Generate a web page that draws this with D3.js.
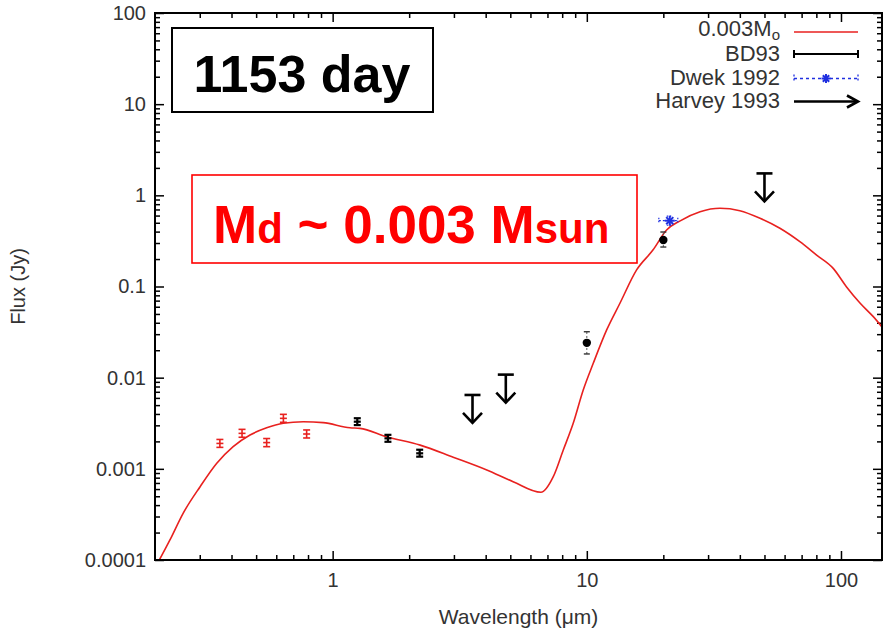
<!DOCTYPE html>
<html>
<head>
<meta charset="utf-8">
<script src="https://cdn.jsdelivr.net/npm/d3@7"></script>
<style>
  body { margin: 0; background: #fff; }
  svg { display: block; }
  text { font-family: "Liberation Sans", Arial, Helvetica, sans-serif; }
</style>
</head>
<body>
<svg id="chart" width="885" height="634"></svg>
<script>
// ---- Model SED (0.003 Msun dust), wavelength in micron, flux in Jy ----
const modelLambda = [0.208, 0.229, 0.258, 0.301, 0.350, 0.406, 0.473, 0.550, 0.639, 0.766,
  0.918, 1.17, 1.28, 1.63, 2.21, 2.98, 4.04, 5.13, 6.60, 7.38, 8.08, 8.84, 9.68, 10.6,
  11.97, 13.5, 15.7, 18.2, 20.6, 23.2, 27.9, 33.4, 40.0, 48.0, 57.5, 68.9, 80.2, 93.2,
  105, 119, 134, 145];
const modelFlux = [1.0e-4, 1.66e-4, 3.25e-4, 6.37e-4, 1.15e-3, 1.75e-3, 2.35e-3, 2.82e-3, 3.16e-3, 3.29e-3,
  3.21e-3, 2.82e-3, 2.78e-3, 2.25e-3, 1.82e-3, 1.34e-3, 9.7e-4, 7.23e-4, 5.53e-4, 8.2e-4,
  1.61e-3, 3.16e-3, 7.33e-3, 0.01437, 0.0334, 0.0655, 0.152, 0.251, 0.417, 0.522, 0.661,
  0.721, 0.678, 0.560, 0.435, 0.310, 0.221, 0.158, 0.0995, 0.0655, 0.0467, 0.036];

// ---- Optical photometry (red) ----
const optLambda = [0.36, 0.44, 0.55, 0.64, 0.79];
const optFlux   = [0.0019, 0.00245, 0.00194, 0.00358, 0.00241];
const optLow    = [0.00172, 0.00222, 0.00175, 0.00324, 0.00218];
const optHigh   = [0.0021, 0.00271, 0.00215, 0.00396, 0.00267];

// ---- BD93 near-IR (JHK) ----
const bdNirLambda = [1.25, 1.65, 2.2];
const bdNirFlux   = [0.00329, 0.00216, 0.00148];
const bdNirLow    = [0.00302, 0.00198, 0.00136];
const bdNirHigh   = [0.00359, 0.00236, 0.00162];

// ---- BD93 mid-IR ----
const bdMirLambda = [10, 20];
const bdMirFlux   = [0.0241, 0.324];
const bdMirLow    = [0.0182, 0.271];
const bdMirHigh   = [0.0319, 0.396];

// ---- Dwek 1992 ----
const dwekLambda = [21.2];
const dwekFlux   = [0.527];
const dwekLow    = [0.47];
const dwekHigh   = [0.59];
const dwekLambdaLow  = [19.2];
const dwekLambdaHigh = [22.8];

// ---- Harvey 1993 upper limits ----
const harveyLambda = [3.55, 4.8, 50];
const harveyLimit  = [0.00646, 0.0108, 1.74];

// ---- Axis ticks and labels ----
const xTickValues = [1, 10, 100];
const xTickLabels = ["1", "10", "100"];
const yTickValues = [1e-4, 1e-3, 1e-2, 1e-1, 1, 10, 100];
const yTickLabels = ["0.0001", "0.001", "0.01", "0.1", "1", "10", "100"];

const legendLabels = ["0.003M", "BD93", "Dwek 1992", "Harvey 1993"];

// ---- Layout ----
const L = 155, R = 882, T = 13, B = 560;
const svg = d3.select("#chart");
const x = d3.scaleLog().domain([0.2, 145]).range([L, R]);
const y = d3.scaleLog().domain([1e-4, 100]).range([B, T]);

const TXT = "#333";
const RED = "#e8211f";

// minor tick positions (2..9 in every decade inside the domain)
function minorTicks(scale) {
  const [a, b] = scale.domain();
  const out = [];
  for (let e = Math.floor(Math.log10(a)); e <= Math.ceil(Math.log10(b)); e++) {
    for (let m = 2; m <= 9; m++) {
      const v = m * Math.pow(10, e);
      if (v > a * 1.0001 && v < b * 0.9999) out.push(v);
    }
  }
  return out;
}
const xMinor = minorTicks(x);
const yMinor = minorTicks(y);

function styleAxis(g) {
  g.select(".domain").remove();
  g.selectAll(".tick line").attr("stroke", "#000").attr("stroke-width", 1.5);
  g.selectAll(".tick text").attr("fill", TXT).attr("font-size", 20)
    .attr("font-family", "'Liberation Sans', Arial, sans-serif");
}

// bottom
svg.append("g").attr("transform", `translate(0,${B})`)
  .call(d3.axisBottom(x).tickValues(xMinor).tickSize(-5).tickSizeOuter(0).tickFormat(""))
  .call(styleAxis);
svg.append("g").attr("transform", `translate(0,${B})`)
  .call(d3.axisBottom(x).tickValues(xTickValues).tickSize(-9).tickSizeOuter(0).tickPadding(13)
    .tickFormat((d, i) => xTickLabels[i]))
  .call(styleAxis);
// top
svg.append("g").attr("transform", `translate(0,${T})`)
  .call(d3.axisTop(x).tickValues(xMinor).tickSize(-5).tickSizeOuter(0).tickFormat(""))
  .call(styleAxis);
svg.append("g").attr("transform", `translate(0,${T})`)
  .call(d3.axisTop(x).tickValues(xTickValues).tickSize(-9).tickSizeOuter(0).tickFormat(""))
  .call(styleAxis);
// left
svg.append("g").attr("transform", `translate(${L},0)`)
  .call(d3.axisLeft(y).tickValues(yMinor).tickSize(-5).tickSizeOuter(0).tickFormat(""))
  .call(styleAxis);
svg.append("g").attr("transform", `translate(${L},0)`)
  .call(d3.axisLeft(y).tickValues(yTickValues).tickSize(-9).tickSizeOuter(0).tickPadding(9)
    .tickFormat((d, i) => yTickLabels[i]))
  .call(styleAxis);
// right
svg.append("g").attr("transform", `translate(${R},0)`)
  .call(d3.axisRight(y).tickValues(yMinor).tickSize(-5).tickSizeOuter(0).tickFormat(""))
  .call(styleAxis);
svg.append("g").attr("transform", `translate(${R},0)`)
  .call(d3.axisRight(y).tickValues(yTickValues).tickSize(-9).tickSizeOuter(0).tickFormat(""))
  .call(styleAxis);

// axis titles
svg.append("text").attr("x", (L + R) / 2).attr("y", 624)
  .attr("text-anchor", "middle").attr("fill", TXT).attr("font-size", 21)
  .text("Wavelength (\u03bcm)");
svg.append("text").attr("transform", `translate(25,${(T + B) / 2}) rotate(-90)`)
  .attr("text-anchor", "middle").attr("fill", TXT).attr("font-size", 20)
  .text("Flux (Jy)");

// clip for the plotting area
svg.append("clipPath").attr("id", "plotClip")
  .append("rect").attr("x", L).attr("y", T).attr("width", R - L).attr("height", B - T);
const plot = svg.append("g").attr("clip-path", "url(#plotClip)");

// model curve
const model = modelLambda.map((l, i) => [l, modelFlux[i]]);
plot.append("path").datum(model)
  .attr("fill", "none").attr("stroke", RED).attr("stroke-width", 1.6)
  .attr("d", d3.line().x(d => x(d[0])).y(d => y(d[1])).curve(d3.curveMonotoneX));

// error-bar "I" markers
function iBars(lams, vals, lows, highs, color, sw, cap) {
  const g = plot.append("g").attr("stroke", color).attr("stroke-width", sw);
  lams.forEach((l, i) => {
    const cx = x(l);
    g.append("line").attr("x1", cx).attr("x2", cx).attr("y1", y(lows[i])).attr("y2", y(highs[i]));
    g.append("line").attr("x1", cx - cap).attr("x2", cx + cap).attr("y1", y(lows[i])).attr("y2", y(lows[i]));
    g.append("line").attr("x1", cx - cap).attr("x2", cx + cap).attr("y1", y(highs[i])).attr("y2", y(highs[i]));
    g.append("line").attr("x1", cx - cap).attr("x2", cx + cap).attr("y1", y(vals[i])).attr("y2", y(vals[i]));
  });
}
iBars(optLambda, optFlux, optLow, optHigh, RED, 1.6, 3.5);
iBars(bdNirLambda, bdNirFlux, bdNirLow, bdNirHigh, "#000", 2.2, 3.5);

// BD93 mid-IR: filled circles with light error bars
const mir = plot.append("g");
bdMirLambda.forEach((l, i) => {
  const cx = x(l);
  mir.append("line").attr("x1", cx).attr("x2", cx).attr("y1", y(bdMirLow[i])).attr("y2", y(bdMirHigh[i]))
    .attr("stroke", "#555").attr("stroke-width", 1).attr("stroke-dasharray", "2,2");
  [bdMirLow[i], bdMirHigh[i]].forEach(v => {
    mir.append("line").attr("x1", cx - 3).attr("x2", cx + 3).attr("y1", y(v)).attr("y2", y(v))
      .attr("stroke", "#333").attr("stroke-width", 1.4);
  });
  mir.append("circle").attr("cx", cx).attr("cy", y(bdMirFlux[i])).attr("r", 4.2).attr("fill", "#000");
});

// Dwek 1992: blue star with dotted error bars
const BLUE = "#1f2fe0";
function star(g, cx, cy, r, color) {
  for (let k = 0; k < 4; k++) {
    const a = k * Math.PI / 4;
    g.append("line").attr("x1", cx - r * Math.cos(a)).attr("y1", cy - r * Math.sin(a))
      .attr("x2", cx + r * Math.cos(a)).attr("y2", cy + r * Math.sin(a))
      .attr("stroke", color).attr("stroke-width", 2);
  }
}
const dw = plot.append("g");
dwekLambda.forEach((l, i) => {
  const cx = x(l), cy = y(dwekFlux[i]);
  const dash = "2,2";
  dw.append("line").attr("x1", x(dwekLambdaLow[i])).attr("x2", x(dwekLambdaHigh[i])).attr("y1", cy).attr("y2", cy)
    .attr("stroke", BLUE).attr("stroke-width", 1.2).attr("stroke-dasharray", dash);
  dw.append("line").attr("x1", cx).attr("x2", cx).attr("y1", y(dwekLow[i])).attr("y2", y(dwekHigh[i]))
    .attr("stroke", BLUE).attr("stroke-width", 1.2).attr("stroke-dasharray", dash);
  [dwekLambdaLow[i], dwekLambdaHigh[i]].forEach(v => {
    dw.append("line").attr("x1", x(v)).attr("x2", x(v)).attr("y1", cy - 3).attr("y2", cy + 3)
      .attr("stroke", BLUE).attr("stroke-width", 1.2).attr("stroke-dasharray", "1.5,1.5");
  });
  [dwekLow[i], dwekHigh[i]].forEach(v => {
    dw.append("line").attr("x1", cx - 3).attr("x2", cx + 3).attr("y1", y(v)).attr("y2", y(v))
      .attr("stroke", BLUE).attr("stroke-width", 1.2).attr("stroke-dasharray", "1.5,1.5");
  });
  star(dw, cx, cy, 5, BLUE);
});

// Harvey 1993 upper limits: bar at the limit with a downward arrow
function limitArrow(g, cx, cy, len) {
  g.append("line").attr("x1", cx - 8).attr("x2", cx + 8).attr("y1", cy).attr("y2", cy);
  g.append("line").attr("x1", cx).attr("x2", cx).attr("y1", cy).attr("y2", cy + len);
  g.append("polyline").attr("fill", "none")
    .attr("points", `${cx - 9.5},${cy + len - 10} ${cx},${cy + len} ${cx + 9.5},${cy + len - 10}`);
}
const hv = plot.append("g").attr("stroke", "#000").attr("stroke-width", 2.6).attr("stroke-linejoin", "miter");
harveyLambda.forEach((l, i) => limitArrow(hv, x(l), y(harveyLimit[i]), 28));

// frame
svg.append("rect").attr("x", L).attr("y", T).attr("width", R - L).attr("height", B - T)
  .attr("fill", "none").attr("stroke", "#000").attr("stroke-width", 2);

// legend
const legRows = [36, 61, 84.5, 108];
const legX0 = 794, legX1 = 858, legTextX = 780;
const leg = svg.append("g");
legendLabels.forEach((lab, i) => {
  const t = leg.append("text").attr("x", legTextX).attr("y", legRows[i])
    .attr("text-anchor", "end").attr("fill", TXT).attr("font-size", 22);
  if (i === 0) {
    t.append("tspan").text(lab);
    t.append("tspan").attr("font-size", 15).attr("dy", 3.5).text("o");
  } else {
    t.text(lab);
  }
});
// model sample
leg.append("line").attr("x1", legX0).attr("x2", legX1).attr("y1", legRows[0] - 4).attr("y2", legRows[0] - 4)
  .attr("stroke", RED).attr("stroke-width", 1.6);
// BD93 sample
{
  const yy = legRows[1] - 7;
  const g = leg.append("g").attr("stroke", "#000").attr("stroke-width", 2);
  g.append("line").attr("x1", legX0).attr("x2", legX1).attr("y1", yy).attr("y2", yy);
  g.append("line").attr("x1", legX0).attr("x2", legX0).attr("y1", yy - 4).attr("y2", yy + 4);
  g.append("line").attr("x1", legX1).attr("x2", legX1).attr("y1", yy - 4).attr("y2", yy + 4);
}
// Dwek sample
{
  const yy = legRows[2] - 6;
  const g = leg.append("g");
  g.append("line").attr("x1", legX0).attr("x2", legX1).attr("y1", yy).attr("y2", yy)
    .attr("stroke", BLUE).attr("stroke-width", 1.3).attr("stroke-dasharray", "3,3");
  [legX0, legX1].forEach(xx => g.append("line").attr("x1", xx).attr("x2", xx).attr("y1", yy - 4).attr("y2", yy + 4)
    .attr("stroke", BLUE).attr("stroke-width", 1.3).attr("stroke-dasharray", "2,2"));
  star(g, (legX0 + legX1) / 2, yy, 4.5, BLUE);
}
// Harvey sample
{
  const yy = legRows[3] - 6.5;
  const g = leg.append("g").attr("stroke", "#000").attr("stroke-width", 2.6);
  g.append("line").attr("x1", legX0).attr("x2", legX1).attr("y1", yy).attr("y2", yy);
  g.append("polyline").attr("fill", "none")
    .attr("points", `${legX1 - 11},${yy - 6} ${legX1},${yy} ${legX1 - 11},${yy + 6}`);
}

// epoch label
svg.append("rect").attr("x", 172).attr("y", 28).attr("width", 261).attr("height", 84)
  .attr("fill", "#fff").attr("stroke", "#000").attr("stroke-width", 2);
svg.append("text").attr("x", 302).attr("y", 92).attr("text-anchor", "middle")
  .attr("font-size", 52).attr("font-weight", "bold").attr("fill", "#000")
  .text("1153 day");

// dust mass label
svg.append("rect").attr("x", 192).attr("y", 175).attr("width", 445).attr("height", 88)
  .attr("fill", "#fff").attr("stroke", "#f00").attr("stroke-width", 1.6);
const md = svg.append("text").attr("x", 213).attr("y", 243)
  .attr("font-weight", "bold").attr("fill", "#f00").attr("font-size", 53);
md.append("tspan").text("M");
md.append("tspan").attr("font-size", 42).text("d");
md.append("tspan").text(" ~ 0.003 M");
md.append("tspan").attr("font-size", 42).text("sun");
</script>
</body>
</html>
